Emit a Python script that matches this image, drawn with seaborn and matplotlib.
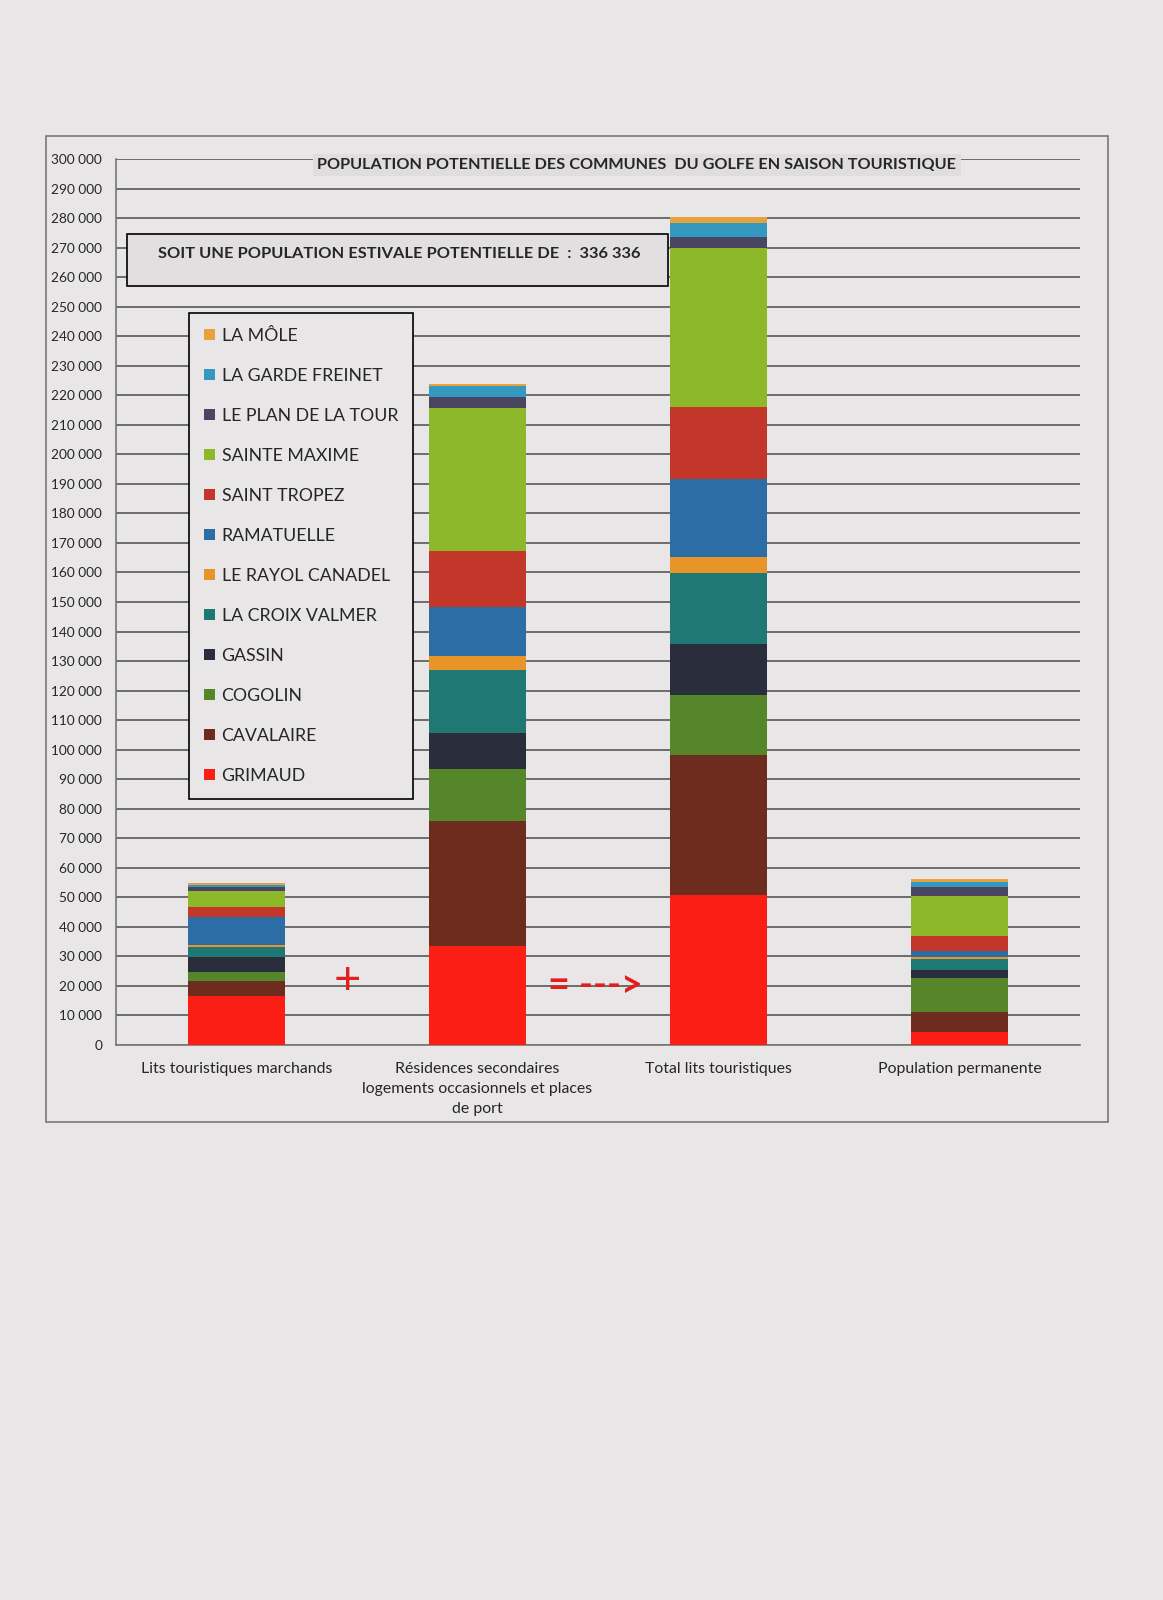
import numpy as np
import pandas as pd
import matplotlib
matplotlib.use('Agg')
import matplotlib.pyplot as plt
from matplotlib.patches import Patch, Rectangle
import seaborn as sns

# Communes, from the bottom of each stack to the top
communes = ['GRIMAUD', 'CAVALAIRE', 'COGOLIN', 'GASSIN', 'LA CROIX VALMER',
            'LE RAYOL CANADEL', 'RAMATUELLE', 'SAINT TROPEZ', 'SAINTE MAXIME',
            'LE PLAN DE LA TOUR', 'LA GARDE FREINET', 'LA MÔLE']
colors = ['#FA1E14', '#6E2C1E', '#55862A', '#2A2D3C', '#1F7874',
          '#E89428', '#2C6DA6', '#C3372A', '#8CB82A',
          '#4A4560', '#3498C0', '#E8A23C']

categories = ['Lits touristiques marchands',
              'Résidences secondaires\nlogements occasionnels et places\nde port',
              'Total lits touristiques',
              'Population permanente']

# values, one list per bar (same order as communes)
lits_marchands = [16700, 5000, 3100, 4900, 3400, 600, 9500, 3500, 5300, 1400, 600, 900]
residences = [33600, 42400, 17400, 12400, 21200, 4700, 16500, 19200, 48200, 3700, 3900, 700]
total_lits = [50800, 47400, 20300, 17200, 24200, 5500, 26200, 24600, 53600, 3900, 4800, 2000]
population_permanente = [4500, 6800, 11300, 2800, 3800, 500, 2200, 5100, 13500, 2900, 1700, 1000]

df = pd.DataFrame([lits_marchands, residences, total_lits, population_permanente],
                  index=categories, columns=communes)
cum = df.cumsum(axis=1)

sns.set_style('white')
plt.rcParams['font.family'] = ['Lato', 'DejaVu Sans']

paper = '#E8E6E7'
fig = plt.figure(figsize=(11.63, 16), dpi=100, facecolor=paper)
ax = fig.add_axes([0.0997, 0.3469, 0.8289, 0.5537])
ax.set_facecolor(paper)

# overlapped cumulative bars -> stacked look
for i in reversed(range(len(communes))):
    sns.barplot(x=categories, y=cum.iloc[:, i].values, color=colors[i],
                width=0.4, saturation=1, linewidth=0, ax=ax, zorder=3)

ax.set_xlim(-0.5, 3.5)
ax.set_ylim(0, 300000)
yt = np.arange(0, 300001, 10000)
ax.set_yticks(yt)
ax.set_yticklabels([f'{v:,}'.replace(',', ' ') for v in yt])
ax.yaxis.grid(True, color='#585858', lw=1.2)
ax.set_axisbelow(True)
ax.set_xlabel('')
ax.set_ylabel('')

for s in ['top', 'right']:
    ax.spines[s].set_visible(False)
for s in ['left', 'bottom']:
    ax.spines[s].set_color('#777777')
    ax.spines[s].set_linewidth(1.2)

ax.tick_params(axis='y', length=8, color='#666666', width=1, labelsize=9.8, pad=2)
ax.set_xticks(range(len(categories)))
ax.set_xticklabels(categories, linespacing=1.55)
ax.tick_params(axis='x', which='major', length=0, labelsize=11.4, pad=12)
ax.set_xticks(np.arange(-0.5, 3.6, 1), minor=True)
ax.tick_params(axis='x', which='minor', length=6, color='#777777', width=1, direction='out')

# red annotations between bars
ax.text(0.46, 21800, '+', color='#E02020', fontsize=34, ha='center', va='center', zorder=4)
ax.text(1.49, 19800, '= --->', color='#E02020', fontsize=27, fontweight='bold',
        ha='center', va='center', zorder=4)

# legend, top entry = top of stack
handles = [Patch(facecolor=colors[i], edgecolor='none', label=communes[i])
           for i in reversed(range(len(communes)))]
leg = fig.legend(handles=handles, loc='upper left', bbox_to_anchor=(0.1546, 0.8102),
                 fontsize=12.8, frameon=True, fancybox=False, edgecolor='black',
                 facecolor=paper, framealpha=1, handlelength=0.65, handleheight=0.65,
                 handletextpad=0.35, labelspacing=1.35, borderpad=0.85)
leg.get_frame().set_linewidth(1.2)
leg.set_zorder(5)

# title sitting on the top gridline
fig.text(0.5477, 0.8970, 'POPULATION POTENTIELLE DES COMMUNES  DU GOLFE EN SAISON TOURISTIQUE',
         ha='center', va='center', fontsize=11.7, fontweight='bold',
         bbox=dict(facecolor='#E0DDDE', edgecolor='none', pad=3))

# text box
fig.patches.append(Rectangle((0.1092, 0.82125), 0.4652, 0.0325, transform=fig.transFigure,
                             facecolor='#E2DFE0', edgecolor='black', lw=1.2, zorder=4))
fig.text(0.1359, 0.8413, 'SOIT UNE POPULATION ESTIVALE POTENTIELLE DE  :  336 336',
         ha='left', va='center', fontsize=11.8, fontweight='bold', zorder=5)

# outer frame of the chart
fig.patches.append(Rectangle((0.0396, 0.299), 0.9131, 0.616, transform=fig.transFigure,
                             facecolor='none', edgecolor='#777777', lw=1.2))

fig.savefig('out.png', dpi=100, facecolor=paper)
